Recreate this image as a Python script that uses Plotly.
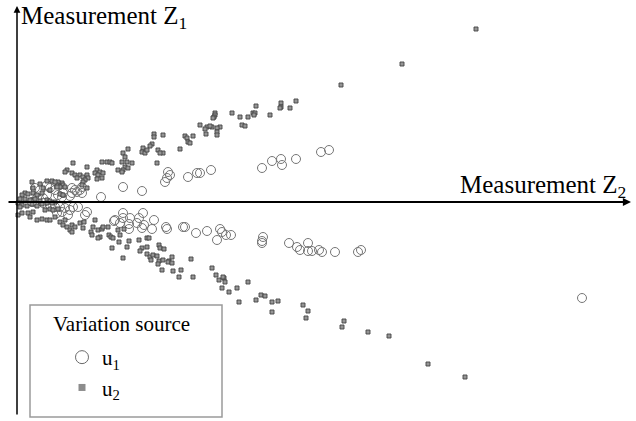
import plotly.graph_objects as go

# ---- Data (arbitrary measurement units) ----
U1_X = [31.2, 30.4, 27.9, 26.4, 26.5, 25.5, 24.5, 19.4, 18.3, 18.0, 17.1, 15.1, 15.3, 15.0, 14.8,
        10.6, 12.5, 8.4, 6.5, 6.3, 6.5, 5.8, 5.5, 5.3, 4.6, 4.5, 4.1, 3.0, 2.6, 2.0, 1.8,
        3.0, 1.8, 3.3, 3.8, 2.3, 5.5, 6.0, 1.5, 2.6,
        3.8, 4.3, 4.8, 5.3, 5.6, 4.5, 5.1, 4.0, 3.3, 6.1, 7.0, 6.8,
        10.6, 10.6, 9.7, 11.3, 11.2, 11.2, 12.0, 12.2, 12.6, 12.5, 12.7, 13.5, 13.7,
        14.9, 15.0, 16.6, 16.8, 17.9, 19.0, 20.0, 20.3, 20.5, 20.9, 21.4,
        24.6, 24.5, 24.5, 27.2, 28.0, 28.3, 29.1, 29.1, 29.5, 30.2, 30.5, 31.8, 34.1, 34.4,
        56.5, 9.8, 10.3]
U1_Y = [5.2, 5.0, 4.3, 4.3, 3.7, 4.1, 3.4, 3.2, 2.9, 2.9, 2.5, 3.0, 2.7, 2.4, 2.0,
        1.5, 1.1, 0.5, 1.5, 1.2, 0.9, 1.2, 0.9, 0.6, 0.9, 0.5, 0.7, 0.7, 0.4, 0.4, 0.0,
        1.7, 1.4, 1.4, 1.2, 1.2, 1.4, 1.0, 0.0, -0.1,
        -0.5, -0.5, -0.6, -0.8, -0.5, -1.0, -1.3, -1.1, -0.3, -0.5, -1.0, -1.3,
        -1.1, -1.6, -1.9, -1.6, -2.2, -2.7, -2.1, -1.6, -1.1, -2.6, -2.3, -2.7, -1.8,
        -2.5, -2.7, -2.5, -2.5, -3.1, -2.9, -3.8, -2.7, -3.0, -3.3, -3.3,
        -3.5, -3.9, -4.1, -4.1, -4.5, -4.8, -4.1, -4.9, -4.9, -4.8, -5.0, -5.0, -5.0, -4.8,
        -9.6, -1.8, -2.1]

U2_X = [45.9, 38.5, 32.4, 27.9, 26.4, 26.4, 26.3, 27.3, 25.3, 23.9, 23.6, 23.8, 23.7, 23.1, 22.3,
        22.5, 22.8, 21.5, 19.8, 19.8, 19.7, 19.6, 20.3, 20.0, 20.0, 20.0, 19.5, 19.0, 18.8, 18.9,
        18.3, 19.3,
        13.7, 13.7, 14.6, 16.8, 17.0, 17.6, 17.1, 17.3, 16.3, 13.5, 13.3, 12.6, 12.5, 12.8, 13.0,
        14.1, 14.6, 14.3, 14.0, 11.1, 10.6, 10.8, 10.5, 11.0, 11.5, 10.8, 11.1, 10.6, 9.0, 9.3,
        9.5, 8.5, 10.1, 10.5, 8.0, 8.3, 8.6, 7.8, 8.1, 8.5, 8.0, 7.0, 6.3, 6.6, 7.0, 7.1, 6.8,
        6.6, 6.5, 5.6, 5.0, 5.5, 5.8, 6.0, 4.5, 4.1, 4.6, 4.8, 4.0, 4.3, 3.0, 3.5, 3.8, 1.5,
        7.0, 4.8, 2.3, 2.6,
        0.8, 0.5, 1.1, 1.6, 2.0, 2.5, 0.3, 0.8, 1.3, 1.8, 2.3, 3.0, 3.3, 3.8, 4.3, 4.6, 1.6,
        3.3, 4.0,
        0.1, 0.5, 1.0, 1.5, 2.0, 2.5, 3.0, 3.5, 0.3, 2.8, 3.3, 3.6, 4.1, 0.1, 0.5, 1.1, 1.3,
        1.6, 2.0, 2.5, 3.0, 3.3, 3.8, 4.3, 4.8, 4.6, 5.0, 5.5, 5.8, 5.3, 5.5, 6.3,
        6.7, 7.8, 6.6, 7.6, 7.4, 7.5, 8.1, 8.5, 8.6, 9.1, 8.3, 8.1, 9.2, 9.4, 9.6, 9.5, 10.1,
        10.3, 10.2, 10.7, 11.2, 11.0, 10.6, 12.2, 13.0, 13.2, 12.5, 12.3, 13.0, 13.0, 13.3,
        13.6, 14.0, 14.2, 14.3, 14.7, 14.2, 13.4, 14.6, 15.2, 15.5,
        15.1, 15.5, 14.5, 15.6, 16.4, 16.2, 17.4, 17.6, 14.1, 19.5, 19.9, 20.2, 20.7, 20.8,
        20.5, 21.2, 20.6, 22.0, 23.1, 22.2, 23.9, 24.4, 24.8, 25.5, 26.1, 25.5, 28.6, 29.1,
        28.9, 32.7, 32.5, 35.1, 37.2, 41.1, 44.8]
U2_Y = [17.3, 13.8, 11.7, 10.1, 9.9, 9.5, 9.4, 9.4, 8.7, 9.6, 8.9, 8.9, 8.7, 8.5, 8.5,
        7.7, 7.6, 8.9, 8.9, 8.7, 8.5, 8.4, 7.5, 7.4, 7.0, 6.7, 7.5, 7.5, 7.3, 6.8,
        7.7, 7.6,
        6.8, 6.5, 6.7, 6.6, 6.4, 6.6, 6.0, 5.9, 5.3, 5.8, 5.6, 5.4, 5.0, 4.9, 5.2,
        5.2, 4.9, 4.9, 3.9, 5.3, 4.9, 4.5, 4.0, 4.0, 3.9, 3.5, 3.4, 3.2, 4.0, 4.0,
        3.9, 4.0, 3.2, 3.0, 3.2, 3.0, 2.9, 2.9, 2.7, 2.4, 2.3, 3.5, 2.7, 2.5, 2.7, 2.4, 2.2,
        2.0, 1.7, 3.9, 3.2, 2.9, 2.7, 2.4, 1.9, 2.0, 1.7, 1.5, 1.7, 1.5, 2.1, 2.1, 2.0, 2.0,
        1.4, 3.0, 1.8, 1.4,
        0.9, 0.7, 0.8, 0.9, 0.7, 0.9, 0.3, 0.3, 0.2, 0.3, 0.1, 0.2, 0.1, 0.0, 0.8, 0.7, 1.4,
        1.2, 1.5,
        -0.1, -0.3, -0.4, -0.2, -0.4, -0.2, -0.1, -0.1, -0.5, -0.8, -0.7, -0.8, -0.7, -1.3, -1.1, -1.1, -1.5,
        -1.0, -1.8, -1.7, -1.8, -1.8, -1.5, -2.0, -1.8, -2.3, -2.5, -2.3, -2.5, -2.8, -3.0, -2.1,
        -2.0, -1.8, -2.6, -2.5, -3.0, -3.3, -2.8, -2.7, -2.5, -2.5, -3.5, -3.6, -3.3, -3.5, -3.6, -4.6, -2.8,
        -3.3, -4.0, -2.7, -3.9, -4.5, -5.6, -3.8, -3.6, -3.6, -4.6, -4.9, -4.5, -5.2, -5.5,
        -5.3, -5.4, -4.3, -4.6, -4.7, -5.9, -5.8, -5.8, -5.9, -5.5,
        -6.0, -6.1, -6.8, -6.9, -6.8, -7.5, -5.7, -7.5, -6.2, -6.6, -7.3, -7.8, -7.6, -8.0,
        -8.6, -9.0, -7.5, -8.6, -8.0, -10.0, -9.8, -9.3, -9.4, -10.0, -9.9, -11.0, -10.3, -10.9,
        -11.6, -11.9, -12.5, -13.0, -13.4, -16.2, -17.5]

SERIES_NAMES = ["u<sub>1</sub>", "u<sub>2</sub>"]
LEGEND_TITLE = "Variation source"
X_LABEL = "Measurement Z<sub>2</sub>"
Y_LABEL = "Measurement Z<sub>1</sub>"

W, H = 636, 421
X_RANGE = [-1.7, 61.9]
Y_RANGE = [-21.9, 20.2]
FONT = "Liberation Serif, Times New Roman, serif"

fig = go.Figure()
fig.add_trace(go.Scatter(x=U1_X, y=U1_Y, mode="markers", showlegend=False,
                         marker=dict(symbol="circle-open", size=9, color="#767676",
                                     line=dict(width=1, color="#767676"))))
fig.add_trace(go.Scatter(x=U2_X, y=U2_Y, mode="markers", showlegend=False,
                         marker=dict(symbol="square", size=4, color="#959595",
                                     line=dict(width=0.9, color="#444444"))))
# legend swatches
fig.add_trace(go.Scatter(x=[None], y=[None], mode="markers", name=SERIES_NAMES[0],
                         marker=dict(symbol="circle-open", size=13, color="#6a6a6a",
                                     line=dict(width=1, color="#6a6a6a"))))
fig.add_trace(go.Scatter(x=[None], y=[None], mode="markers", name=SERIES_NAMES[1],
                         marker=dict(symbol="square", size=7, color="#8c8c8c",
                                     line=dict(width=0))))

def px_x(p):
    return X_RANGE[0] + p / W * (X_RANGE[1] - X_RANGE[0])

def px_y(p):
    return Y_RANGE[1] - p / H * (Y_RANGE[1] - Y_RANGE[0])

annotations = [
    # horizontal axis arrow
    dict(x=px_x(631), y=0, ax=px_x(7), ay=0, xref="x", yref="y", axref="x", ayref="y",
         text="", showarrow=True, arrowhead=2, arrowsize=0.9, arrowwidth=1.8, arrowcolor="black"),
    # vertical axis arrow
    dict(x=0, y=px_y(6), ax=0, ay=px_y(416), xref="x", yref="y", axref="x", ayref="y",
         text="", showarrow=True, arrowhead=2, arrowsize=0.9, arrowwidth=1.5, arrowcolor="black"),
    dict(x=19 / W, y=1 - 17 / H, xref="paper", yref="paper", xanchor="left", yanchor="middle",
         text=Y_LABEL, showarrow=False, font=dict(family=FONT, size=25, color="black")),
    dict(x=628 / W, y=1 - 187 / H, xref="paper", yref="paper", xanchor="right", yanchor="middle",
         text=X_LABEL, showarrow=False, font=dict(family=FONT, size=25, color="black")),
    dict(x=121 / W, y=1 - 324 / H, xref="paper", yref="paper", xanchor="center", yanchor="middle",
         text=LEGEND_TITLE, showarrow=False, font=dict(family=FONT, size=21, color="black")),
]

shapes = [
    dict(type="rect", xref="paper", yref="paper", x0=30 / W, x1=222 / W,
         y0=1 - 417 / H, y1=1 - 305 / H, line=dict(color="#9a9a9a", width=1.5),
         fillcolor="white", layer="above"),
]

fig.update_layout(
    width=W, height=H,
    margin=dict(l=0, r=0, t=0, b=0),
    paper_bgcolor="white", plot_bgcolor="white",
    xaxis=dict(range=X_RANGE, visible=False, fixedrange=True),
    yaxis=dict(range=Y_RANGE, visible=False, fixedrange=True),
    annotations=annotations,
    shapes=shapes,
    showlegend=True,
    legend=dict(x=62 / W, y=1 - 337 / H, xanchor="left", yanchor="top",
                bgcolor="rgba(0,0,0,0)", borderwidth=0,
                font=dict(family=FONT, size=21, color="black"),
                itemsizing="trace", tracegroupgap=0),
)

fig.write_html("out.html", config={"displayModeBar": False},
               post_script="document.body.style.margin='0';document.body.style.overflow='hidden';")
